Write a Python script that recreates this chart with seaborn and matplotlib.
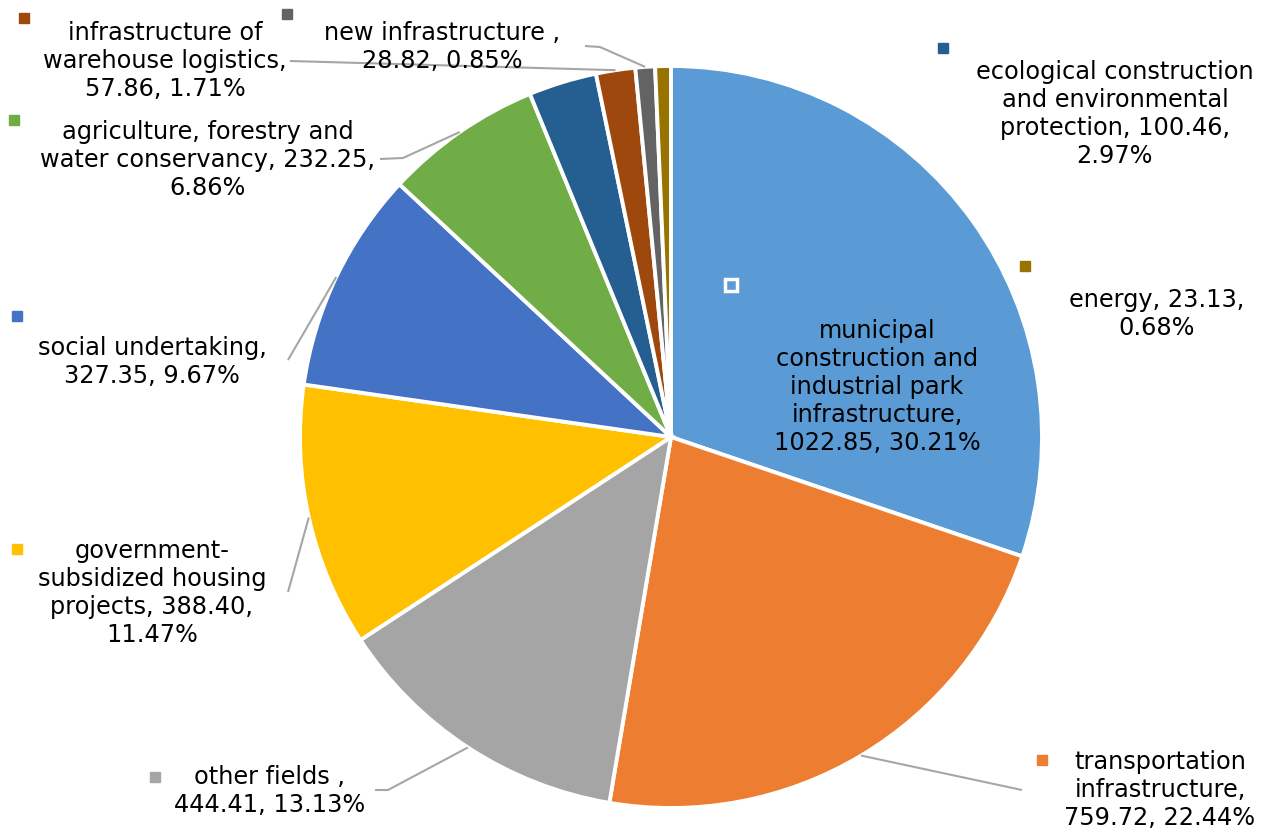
import numpy as np
import matplotlib
matplotlib.use("Agg")
import matplotlib.pyplot as plt
import seaborn as sns

# data, clockwise from 12 o'clock
categories = [
    "municipal\nconstruction and\nindustrial park\ninfrastructure,",
    "transportation\ninfrastructure,",
    "other fields ,",
    "government-\nsubsidized housing\nprojects,",
    "social undertaking,",
    "agriculture, forestry and\nwater conservancy,",
    "ecological construction\nand environmental\nprotection,",
    "infrastructure of\nwarehouse logistics,",
    "new infrastructure ,",
    "energy,",
]
values = [1022.85, 759.72, 444.41, 388.40, 327.35, 232.25, 100.46, 57.86, 28.82, 23.13]
shares = [30.21, 22.44, 13.13, 11.47, 9.67, 6.86, 2.97, 1.71, 0.85, 0.68]
label_text = [
    "municipal\nconstruction and\nindustrial park\ninfrastructure,\n1022.85, 30.21%",
    "transportation\ninfrastructure,\n759.72, 22.44%",
    "other fields ,\n444.41, 13.13%",
    "government-\nsubsidized housing\nprojects, 388.40,\n11.47%",
    "social undertaking,\n327.35, 9.67%",
    "agriculture, forestry and\nwater conservancy, 232.25,\n6.86%",
    "ecological construction\nand environmental\nprotection, 100.46,\n2.97%",
    "infrastructure of\nwarehouse logistics,\n57.86, 1.71%",
    "new infrastructure ,\n28.82, 0.85%",
    "energy, 23.13,\n0.68%",
]
colors = ["#5B9BD5", "#ED7D31", "#A5A5A5", "#FFC000", "#4472C4",
          "#70AD47", "#255E91", "#9E480E", "#636363", "#997300"]

sns.set_style("white")
plt.rcParams["font.family"] = ["DejaVu Sans"]

W, H = 1270, 831
fig = plt.figure(figsize=(W / 100, H / 100), dpi=100)
ax = fig.add_axes([0, 0, 1, 1])


def P(x, y):
    # pixel coords (top-left origin) -> data coords
    return x, H - y


cx, cy = P(671, 437)
R = 371
ax.pie(values, colors=colors, startangle=90, counterclock=False,
       center=(cx, cy), radius=R, frame=True,
       wedgeprops=dict(edgecolor="white", linewidth=2.8))
ax.set_xlim(0, W)
ax.set_ylim(0, H)
ax.set_aspect("equal")
ax.axis("off")

# label layout: (text center x, text center y, marker x, marker y, elbow points or None)
layout = [
    (877, 387, 731, 285, None),
    (1160, 790, 1042, 760, [(1022, 790)]),
    (270, 791, 155, 777, [(375, 790), (388, 790)]),
    (152, 593, 17, 549, [(288, 592)]),
    (152, 362, 17, 316, [(288, 360)]),
    (208, 160, 14, 120, [(380, 159), (403, 158)]),
    (1115, 114, 943, 48, None),
    (165, 61, 24, 18, [(290, 61)]),
    (442, 47, 287, 14, [(585, 46), (600, 47)]),
    (1157, 314, 1025, 266, None),
]

total = sum(values)
cum = np.cumsum([0] + values)
for i, (tx, ty, mx, my, elbow) in enumerate(layout):
    ax.text(*P(tx, ty), label_text[i], ha="center", va="center",
            fontsize=17.3, linespacing=1.2, color="#000000", zorder=5)
    if i == 0:
        ax.plot(*P(mx, my), marker="s", ms=9, mfc=colors[i], mec="white",
                mew=2.5, zorder=5)
    else:
        ax.plot(*P(mx, my), marker="s", ms=7, mfc=colors[i], mec=colors[i],
                zorder=5)
    if elbow:
        mid = (cum[i] + cum[i + 1]) / 2 / total * 2 * np.pi
        ex = cx + R * np.sin(mid)
        ey = cy + R * np.cos(mid)
        pts = [P(x, y) for x, y in elbow] + [(ex, ey)]
        ax.plot([p[0] for p in pts], [p[1] for p in pts], color="#A6A6A6",
                lw=1.5, zorder=1, solid_capstyle="butt")

fig.savefig("out.png", dpi=100, facecolor="white")
